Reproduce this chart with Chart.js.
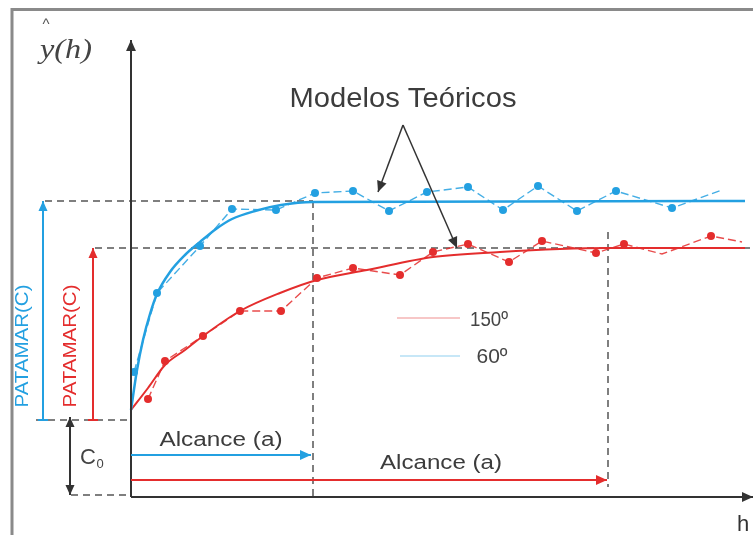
<!DOCTYPE html>
<html>
<head>
<meta charset="utf-8">
<script src="https://cdn.jsdelivr.net/npm/chart.js@4.4.0/dist/chart.umd.min.js"></script>
<style>
html, body { margin: 0; padding: 0; background: #fff; overflow: hidden; }
#wrap { width: 753px; height: 535px; }
</style>
</head>
<body>
<div id="wrap"><canvas id="grafico" width="753" height="535"></canvas></div>
<script>
// semivariograma: h no eixo x, y(h) no eixo y (unidades do desenho, origem nos eixos)
const azul = 'rgb(35,160,225)';
const vermelho = 'rgb(228,45,45)';
const cinza = '#555';

// pontos experimentais 60º (raio 0 = sem marcador)
const azulObsH = [3, 26, 69, 101, 145, 184, 222, 258, 296, 337, 372, 407, 446, 485, 541, 591];
const azulObsY = [125, 204, 251, 288, 287, 304, 306, 286, 305, 310, 287, 311, 286, 306, 289, 307];
const azulObsR = [4, 4, 4, 4, 4, 4, 4, 4, 4, 4, 4, 4, 4, 4, 4, 0];

// pontos experimentais 150º
const vermObsH = [17, 34, 72, 109, 150, 186, 222, 269, 302, 337, 378, 411, 465, 493, 531, 580, 611];
const vermObsY = [98, 136, 161, 186, 186, 219, 229, 222, 245, 253, 235, 256, 244, 253, 243, 261, 255];
const vermObsR = [4, 4, 4, 4, 4, 4, 4, 4, 4, 4, 4, 4, 4, 4, 0, 4, 0];

// modelos teoricos ajustados
const azulModH = [0, 6, 12, 19, 26, 39, 54, 69, 85, 101, 124, 150, 182, 614];
const azulModY = [87, 127, 157, 183, 203, 225, 242, 255, 268, 278, 286, 292, 295, 296];
const vermModH = [0, 17, 34, 54, 72, 109, 149, 186, 236, 302, 369, 429, 477, 614];
const vermModY = [87, 109, 132, 147, 161, 186, 204, 217, 227, 240, 245, 248, 249, 249];

// parametros
const efeitoPepita = 77;   // C0
const patamarAzul = 296;
const patamarVerm = 249;
const alcanceAzul = 182;
const alcanceVerm = 477;

function pares(hs, ys) {
    return hs.map((h, i) => ({ x: h, y: ys[i] }));
}

function seta(ctx, x1, y1, x2, y2, cor, larg, cab, duas) {
    ctx.save();
    ctx.strokeStyle = cor;
    ctx.fillStyle = cor;
    ctx.lineWidth = larg;
    ctx.setLineDash([]);
    ctx.beginPath();
    ctx.moveTo(x1, y1);
    ctx.lineTo(x2, y2);
    ctx.stroke();
    let pontas = duas ? [[x1, y1, x2, y2], [x2, y2, x1, y1]] : [[x1, y1, x2, y2]];
    pontas.forEach(p => {
        let ang = Math.atan2(p[3] - p[1], p[2] - p[0]);
        ctx.beginPath();
        ctx.moveTo(p[2], p[3]);
        ctx.lineTo(p[2] - cab * Math.cos(ang) + cab * 0.45 * Math.sin(ang), p[3] - cab * Math.sin(ang) - cab * 0.45 * Math.cos(ang));
        ctx.lineTo(p[2] - cab * Math.cos(ang) - cab * 0.45 * Math.sin(ang), p[3] - cab * Math.sin(ang) + cab * 0.45 * Math.cos(ang));
        ctx.closePath();
        ctx.fill();
    });
    ctx.restore();
}

function tracejado(ctx, x1, y1, x2, y2) {
    ctx.save();
    ctx.strokeStyle = cinza;
    ctx.lineWidth = 1.5;
    ctx.setLineDash([7, 5]);
    ctx.beginPath();
    ctx.moveTo(x1, y1);
    ctx.lineTo(x2, y2);
    ctx.stroke();
    ctx.restore();
}

function texto(ctx, txt, x, y, larg, tam, cor, rot, estilo, familia) {
    ctx.save();
    ctx.font = (estilo ? estilo + ' ' : '') + tam + 'px ' + (familia || '"Liberation Sans", Arial, sans-serif');
    let m = ctx.measureText(txt).width;
    ctx.translate(x, y);
    if (rot) ctx.rotate(rot);
    if (larg) ctx.scale(larg / m, 1);
    ctx.fillStyle = cor;
    ctx.textAlign = 'center';
    ctx.textBaseline = 'middle';
    ctx.fillText(txt, 0, 0);
    ctx.restore();
}

const desenho = {
    id: 'desenho',
    beforeDraw(chart) {
        let ctx = chart.ctx;
        let X = v => chart.scales.x.getPixelForValue(v);
        let Y = v => chart.scales.y.getPixelForValue(v);
        ctx.save();
        ctx.fillStyle = '#fff';
        ctx.fillRect(0, 0, chart.width, chart.height);
        ctx.strokeStyle = '#8a8a8a';
        ctx.lineWidth = 3;
        ctx.beginPath();
        ctx.moveTo(12, chart.height);
        ctx.lineTo(12, 9.5);
        ctx.lineTo(chart.width, 9.5);
        ctx.stroke();
        ctx.restore();

        // linhas guia tracejadas
        tracejado(ctx, X(-86), Y(patamarAzul), X(alcanceAzul), Y(patamarAzul));
        tracejado(ctx, X(-36), Y(patamarVerm), X(622), Y(patamarVerm));
        tracejado(ctx, X(-95), Y(efeitoPepita), X(0), Y(efeitoPepita));
        tracejado(ctx, X(-60), Y(2), X(0), Y(2));
        tracejado(ctx, X(alcanceAzul), Y(patamarAzul), X(alcanceAzul), Y(0));
        tracejado(ctx, X(alcanceVerm), Y(265), X(alcanceVerm), Y(10));
    },
    afterDatasetsDraw(chart) {
        let ctx = chart.ctx;
        let X = v => chart.scales.x.getPixelForValue(v);
        let Y = v => chart.scales.y.getPixelForValue(v);

        // eixos
        seta(ctx, X(0), Y(0), X(0), Y(457), '#333', 2, 11);
        seta(ctx, X(0), Y(0), X(622), Y(0), '#333', 2, 11);

        // patamares
        seta(ctx, X(-88), Y(efeitoPepita), X(-88), Y(patamarAzul), azul, 2, 10);
        seta(ctx, X(-38), Y(efeitoPepita), X(-38), Y(patamarVerm), vermelho, 2, 10);
        ctx.save();
        ctx.lineWidth = 2;
        ctx.strokeStyle = azul;
        ctx.beginPath(); ctx.moveTo(X(-93), Y(efeitoPepita)); ctx.lineTo(X(-83), Y(efeitoPepita)); ctx.stroke();
        ctx.strokeStyle = vermelho;
        ctx.beginPath(); ctx.moveTo(X(-43), Y(efeitoPepita)); ctx.lineTo(X(-33), Y(efeitoPepita)); ctx.stroke();
        ctx.restore();

        // efeito pepita
        seta(ctx, X(-61), Y(80), X(-61), Y(2), '#333', 2, 10, true);

        // alcances
        seta(ctx, X(0), Y(42), X(180), Y(42), azul, 2, 11);
        seta(ctx, X(0), Y(17), X(476), Y(17), vermelho, 2, 11);

        // setas dos modelos teoricos
        seta(ctx, X(272), Y(372), X(247), Y(305), '#333', 1.5, 11);
        seta(ctx, X(272), Y(372), X(326), Y(249), '#333', 1.5, 11);

        // legenda
        ctx.save();
        ctx.lineWidth = 1.5;
        ctx.strokeStyle = 'rgba(240,150,150,0.7)';
        ctx.beginPath(); ctx.moveTo(397, 318); ctx.lineTo(460, 318); ctx.stroke();
        ctx.strokeStyle = 'rgba(150,210,240,0.7)';
        ctx.beginPath(); ctx.moveTo(400, 356); ctx.lineTo(460, 356); ctx.stroke();
        ctx.restore();

        // textos
        texto(ctx, 'Modelos Teóricos', 403, 100, 227, 27, '#3c3c3c');
        texto(ctx, 'Alcance (a)', 221, 440, 123, 20, '#3c3c3c');
        texto(ctx, 'Alcance (a)', 441, 463, 122, 20, '#3c3c3c');
        texto(ctx, '150º', 489, 320, 38, 21, '#444');
        texto(ctx, '60º', 492, 357, 31, 21, '#444');
        texto(ctx, 'PATAMAR(C)', 23, 346, 123, 19, azul, -Math.PI / 2);
        texto(ctx, 'PATAMAR(C)', 71, 346, 123, 19, vermelho, -Math.PI / 2);
        texto(ctx, 'C', 88, 458, null, 22, '#444');
        texto(ctx, '0', 100, 464, null, 13, '#444');
        texto(ctx, 'h', 743, 525, null, 22, '#333');
        texto(ctx, 'y(h)', 66, 51, 52, 27, '#444', 0, 'italic', '"Liberation Serif", "Times New Roman", serif');
        texto(ctx, '^', 46, 25, null, 15, '#555');
    }
};

new Chart(document.getElementById('grafico'), {
    type: 'scatter',
    data: {
        datasets: [
            {
                label: '60º modelo',
                data: pares(azulModH, azulModY),
                showLine: true,
                borderColor: azul,
                borderWidth: 2.5,
                pointRadius: 0,
                cubicInterpolationMode: 'monotone'
            },
            {
                label: '150º modelo',
                data: pares(vermModH, vermModY),
                showLine: true,
                borderColor: vermelho,
                borderWidth: 2,
                pointRadius: 0,
                cubicInterpolationMode: 'monotone'
            },
            {
                label: '60º',
                data: pares(azulObsH, azulObsY),
                showLine: true,
                borderColor: 'rgba(35,160,225,0.85)',
                borderWidth: 1.4,
                borderDash: [8, 4],
                pointRadius: azulObsR,
                pointBackgroundColor: azul,
                pointBorderColor: azul,
                pointBorderWidth: 0
            },
            {
                label: '150º',
                data: pares(vermObsH, vermObsY),
                showLine: true,
                borderColor: 'rgba(228,45,45,0.85)',
                borderWidth: 1.4,
                borderDash: [8, 4],
                pointRadius: vermObsR,
                pointBackgroundColor: vermelho,
                pointBorderColor: vermelho,
                pointBorderWidth: 0
            }
        ]
    },
    options: {
        responsive: false,
        animation: false,
        devicePixelRatio: 1,
        layout: { padding: 0, autoPadding: false },
        plugins: {
            legend: { display: false },
            tooltip: { enabled: false }
        },
        scales: {
            x: { type: 'linear', min: -131, max: 622, display: false },
            y: { type: 'linear', min: -38, max: 497, display: false }
        }
    },
    plugins: [desenho]
});
</script>
</body>
</html>
